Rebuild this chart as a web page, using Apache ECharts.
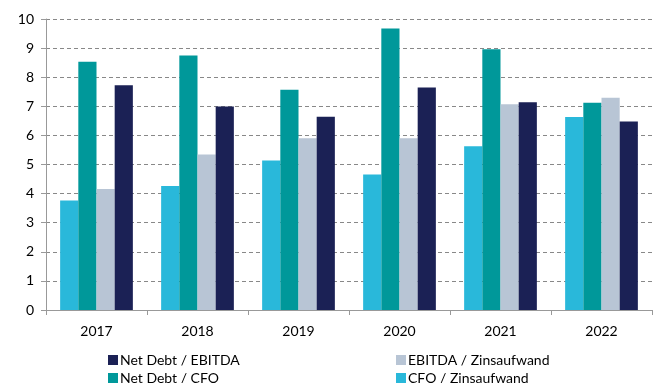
<!DOCTYPE html>
<html>
<head>
<meta charset="utf-8">
<script src="https://cdn.jsdelivr.net/npm/echarts@6/dist/echarts.min.js"></script>
<style>
  html, body { margin: 0; padding: 0; background: #fff; }
  #chart { width: 653px; height: 383px; }
</style>
</head>
<body>
<div id="chart"></div>
<script>
// Kennzahlen 2017–2022
const years = ['2017', '2018', '2019', '2020', '2021', '2022'];
const cfoZins = [3.76, 4.26, 5.14, 4.66, 5.63, 6.63];
const netDebtCfo = [8.53, 8.75, 7.57, 9.67, 8.96, 7.12];
const ebitdaZins = [4.16, 5.34, 5.90, 5.90, 7.07, 7.29];
const netDebtEbitda = [7.72, 6.99, 6.64, 7.65, 7.14, 6.48];
const yTicks = [0, 1, 2, 3, 4, 5, 6, 7, 8, 9, 10];

const font = 'Lato, "Open Sans", sans-serif';
const colors = {
  cfoZins: '#29B8DA',
  netDebtCfo: '#00989A',
  ebitdaZins: '#B8C5D5',
  netDebtEbitda: '#1B2155'
};

function bar(name, data, color) {
  return {
    name: name,
    type: 'bar',
    data: data,
    barGap: '0%',
    barCategoryGap: '28%',
    itemStyle: { color: color },
    emphasis: { disabled: true }
  };
}

function legendColumn(left, names) {
  return {
    data: names,
    left: left,
    top: 353,
    height: 40,
    padding: 0,
    orient: 'vertical',
    itemWidth: 10,
    itemHeight: 10,
    itemGap: 4,
    icon: 'rect',
    selectedMode: false,
    textStyle: {
      fontFamily: font, fontSize: 14, lineHeight: 14, color: '#000',
      padding: [0, 0, 0, -3]
    }
  };
}

const chart = echarts.init(document.getElementById('chart'), null, { renderer: 'canvas' });
chart.setOption({
  animation: false,
  grid: { left: 46, right: 1, top: 19, bottom: 73 },
  legend: [
    legendColumn(108, ['Net Debt / EBITDA', 'Net Debt / CFO']),
    legendColumn(396, ['EBITDA / Zinsaufwand', 'CFO / Zinsaufwand'])
  ],
  xAxis: {
    type: 'category',
    data: years,
    axisLine: { lineStyle: { color: '#999', width: 1 } },
    axisTick: { show: true, length: 5, lineStyle: { color: '#999' } },
    axisLabel: { fontFamily: font, fontSize: 14, color: '#000', margin: 14 }
  },
  yAxis: {
    type: 'value',
    min: yTicks[0],
    max: yTicks[yTicks.length - 1],
    interval: 1,
    axisLine: { show: true, lineStyle: { color: '#999', width: 1 } },
    axisTick: { show: true, length: 5, lineStyle: { color: '#999' } },
    axisLabel: { fontFamily: font, fontSize: 14, color: '#000', margin: 12 },
    splitLine: { show: true, lineStyle: { color: '#888', type: [4, 3], width: 1 } }
  },
  series: [
    bar('CFO / Zinsaufwand', cfoZins, colors.cfoZins),
    bar('Net Debt / CFO', netDebtCfo, colors.netDebtCfo),
    bar('EBITDA / Zinsaufwand', ebitdaZins, colors.ebitdaZins),
    bar('Net Debt / EBITDA', netDebtEbitda, colors.netDebtEbitda)
  ]
});
</script>
</body>
</html>
